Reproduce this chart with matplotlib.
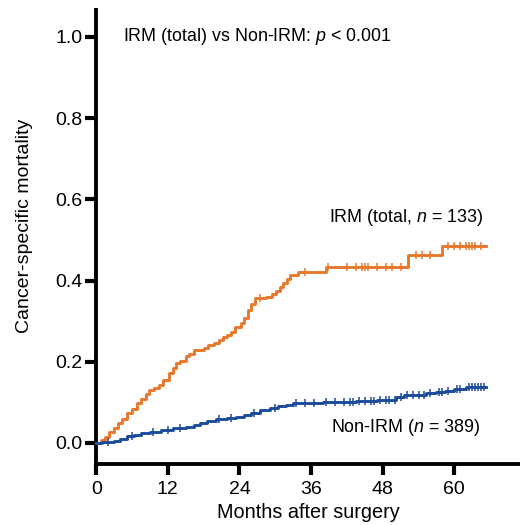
"""Cumulative cancer-specific mortality, IRM (total) vs Non-IRM, redrawn as a step plot."""

import matplotlib

matplotlib.use("Agg")
import matplotlib.pyplot as plt
import numpy as np

plt.rcParams["font.family"] = ["Liberation Sans", "DejaVu Sans"]
plt.rcParams["mathtext.fontset"] = "custom"
plt.rcParams["mathtext.rm"] = "Liberation Sans"
plt.rcParams["mathtext.it"] = "Liberation Sans:italic"

# --- IRM (total), n = 133: event steps (months, cumulative mortality) ---
irm_t = [0, 0.8, 1.5, 2.2, 2.9, 3.6, 4.4, 5.2, 6.0, 6.9, 7.5, 8.3, 8.9, 9.6, 10.5,
         11.2, 12.2, 12.8, 13.3, 14.0, 15.0, 15.6, 16.4, 18.0, 18.8, 19.7, 20.5,
         21.2, 21.9, 22.6, 23.3, 24.2, 24.8, 25.5, 26.0, 26.6, 28.5, 29.4, 30.2,
         30.8, 31.3, 31.9, 32.4, 33.8, 38.5, 52.3, 58.0, 65.3]
irm_y = [0, 0.008, 0.015, 0.028, 0.038, 0.048, 0.060, 0.073, 0.083, 0.098, 0.108,
         0.120, 0.131, 0.136, 0.143, 0.155, 0.172, 0.184, 0.196, 0.203, 0.213,
         0.220, 0.229, 0.233, 0.240, 0.246, 0.254, 0.260, 0.266, 0.274, 0.285,
         0.295, 0.308, 0.328, 0.342, 0.356, 0.360, 0.366, 0.373, 0.383, 0.393,
         0.404, 0.414, 0.422, 0.434, 0.463, 0.486, 0.486]
irm_censor = [27.5, 35.0, 38.9, 42.0, 43.5, 44.5, 45.0, 45.5, 47.0, 48.5, 49.5,
              51.0, 53.5, 54.5, 56.0, 59.0, 60.0, 61.0, 62.0, 62.5, 63.0, 63.5, 64.5]

# --- Non-IRM, n = 389 ---
non_t = [0, 1.0, 3.0, 4.0, 5.2, 6.3, 7.5, 9.0, 10.8, 12.9, 15.0, 16.4, 17.4, 18.6,
         20.0, 21.9, 23.5, 24.7, 26.0, 27.5, 29.1, 30.5, 31.8, 33.0, 38.0, 41.0,
         43.6, 47.0, 50.3, 51.5, 55.3, 57.0, 58.5, 60.0, 62.0, 65.3]
non_y = [0, 0.003, 0.006, 0.010, 0.016, 0.020, 0.024, 0.028, 0.032, 0.036, 0.040,
         0.044, 0.048, 0.055, 0.058, 0.061, 0.065, 0.069, 0.074, 0.080, 0.085,
         0.090, 0.094, 0.098, 0.100, 0.102, 0.104, 0.106, 0.114, 0.118, 0.122,
         0.126, 0.129, 0.132, 0.137, 0.137]
non_censor = [2.0, 6.0, 9.5, 12.0, 14.0, 20.5, 22.5, 26.5, 30.0, 33.5, 35.0, 36.5,
              38.5, 40.0, 41.5, 42.5, 43.0, 44.0, 45.0, 46.0, 46.5, 47.5, 48.5,
              49.0, 50.0, 51.0, 52.0, 53.0, 54.0, 55.0, 56.0, 57.5, 58.0, 59.0,
              60.5, 61.0, 62.5, 63.0, 63.5, 64.0, 64.5, 65.0]

x_ticks = [0, 12, 24, 36, 48, 60]
y_ticks = [0.0, 0.2, 0.4, 0.6, 0.8, 1.0]

ORANGE = "#E8782E"
BLUE = "#1C4C9C"


def step_value(t_steps, y_steps, t):
    idx = np.searchsorted(t_steps, t, side="right") - 1
    return np.asarray(y_steps)[idx]


fig = plt.figure(figsize=(5.2, 5.25), dpi=100)
ax = fig.add_axes([0.185, 0.116, 0.815, 0.865])

for t, y, cens, col in [(irm_t, irm_y, irm_censor, ORANGE), (non_t, non_y, non_censor, BLUE)]:
    ax.step(t, y, where="post", color=col, lw=2.1, clip_on=False, zorder=3)
    ax.plot(cens, step_value(t, y, cens), ls="none", marker="|", ms=5.5, mew=1.1,
            color=col, zorder=3)

ax.set_xlim(0, 71)
ax.set_ylim(-0.052, 1.066)
ax.set_xticks(x_ticks)
ax.set_yticks(y_ticks)
ax.set_yticklabels([f"{v:.1f}" for v in y_ticks])
ax.tick_params(axis="both", length=8, width=3.0, labelsize=14)
ax.tick_params(axis="y", pad=2)
ax.tick_params(axis="x", pad=4)
for side in ("top", "right"):
    ax.spines[side].set_visible(False)
for side in ("left", "bottom"):
    ax.spines[side].set_linewidth(2.8)

ax.set_xlabel("Months after surgery", fontsize=14.3, labelpad=4)
ax.set_ylabel("Cancer-specific mortality", fontsize=14)
ax.yaxis.set_label_coords(-0.15, 0.525)

ax.text(4.5, 1.0, "IRM (total) vs Non-IRM: $\\it{p}$ < 0.001", fontsize=12.9,
        va="center", ha="left")
ax.text(51.9, 0.554, "IRM (total, $\\it{n}$ = 133)", fontsize=12.9, va="center", ha="center")
ax.text(51.9, 0.037, "Non-IRM ($\\it{n}$ = 389)", fontsize=12.9, va="center", ha="center")

fig.savefig("out.png", dpi=100)
